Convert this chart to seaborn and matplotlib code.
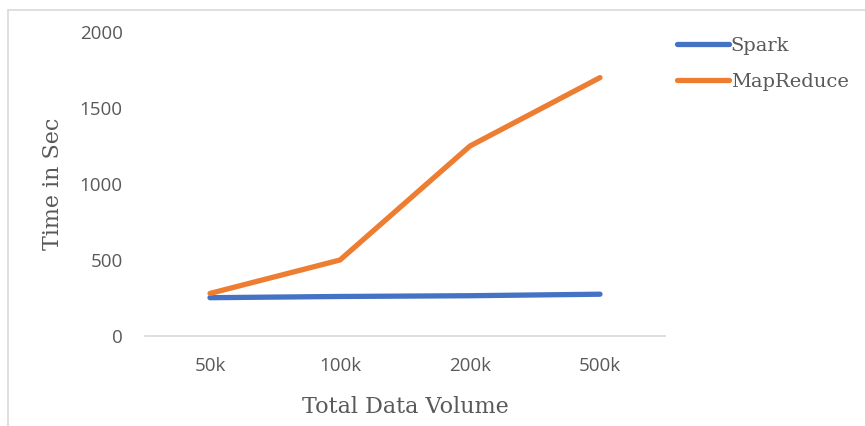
import matplotlib
matplotlib.use("Agg")
import matplotlib.pyplot as plt
import seaborn as sns
import pandas as pd
from matplotlib.lines import Line2D

categories = ["50k", "100k", "200k", "500k"]
spark = [252, 260, 265, 275]
mapreduce = [280, 500, 1250, 1700]

sns.set_theme(style="white")
plt.rcParams['font.family'] = ['Open Sans', 'DejaVu Sans']

df = pd.DataFrame({
    "volume": categories * 2,
    "time": spark + mapreduce,
    "series": ["Spark"] * 4 + ["MapReduce"] * 4,
})

fig = plt.figure(figsize=(8.65, 4.26), dpi=100)
ax = fig.add_axes([145/865, 1 - 336/426, 520/865, (336 - 32)/426])

palette = {"Spark": "#4472C4", "MapReduce": "#ED7D31"}
sns.lineplot(data=df, x="volume", y="time", hue="series", palette=palette,
             linewidth=3.8, ax=ax, sort=False, solid_capstyle="round")

ax.set_xlim(-0.5, 3.5)
ax.set_ylim(0, 2000)
ax.set_yticks([0, 500, 1000, 1500, 2000])
for s in ["top", "right", "left"]:
    ax.spines[s].set_visible(False)
ax.spines["bottom"].set_color("#D9D9D9")
ax.spines["bottom"].set_linewidth(1.2)
ax.tick_params(axis="both", length=0, labelsize=13.5, colors="#595959")
ax.tick_params(axis="y", pad=16)
ax.tick_params(axis="x", pad=15)

serif = ['DejaVu Serif']
ax.set_xlabel("Total Data Volume", family=serif, fontsize=16, color="#595959", labelpad=15)
ax.set_ylabel("Time in Sec", family=serif, fontsize=16, color="#595959")
ax.yaxis.set_label_coords(-0.155, 0.5)

leg = ax.legend(loc="upper left", bbox_to_anchor=(0.99, 1.042), frameon=False,
                prop={"family": serif, "size": 14}, handlelength=2.65,
                handletextpad=0.1, labelspacing=0.95)
for t in leg.get_texts():
    t.set_color("#595959")
for h in leg.get_lines():
    h.set_linewidth(3.8)

fig.add_artist(Line2D([8/865, 8/865], [0, 1 - 10/426], color="#D9D9D9", lw=1.2, transform=fig.transFigure))
fig.add_artist(Line2D([8/865, 1], [1 - 10/426, 1 - 10/426], color="#D9D9D9", lw=1.2, transform=fig.transFigure))

fig.savefig("out.png", dpi=100)
